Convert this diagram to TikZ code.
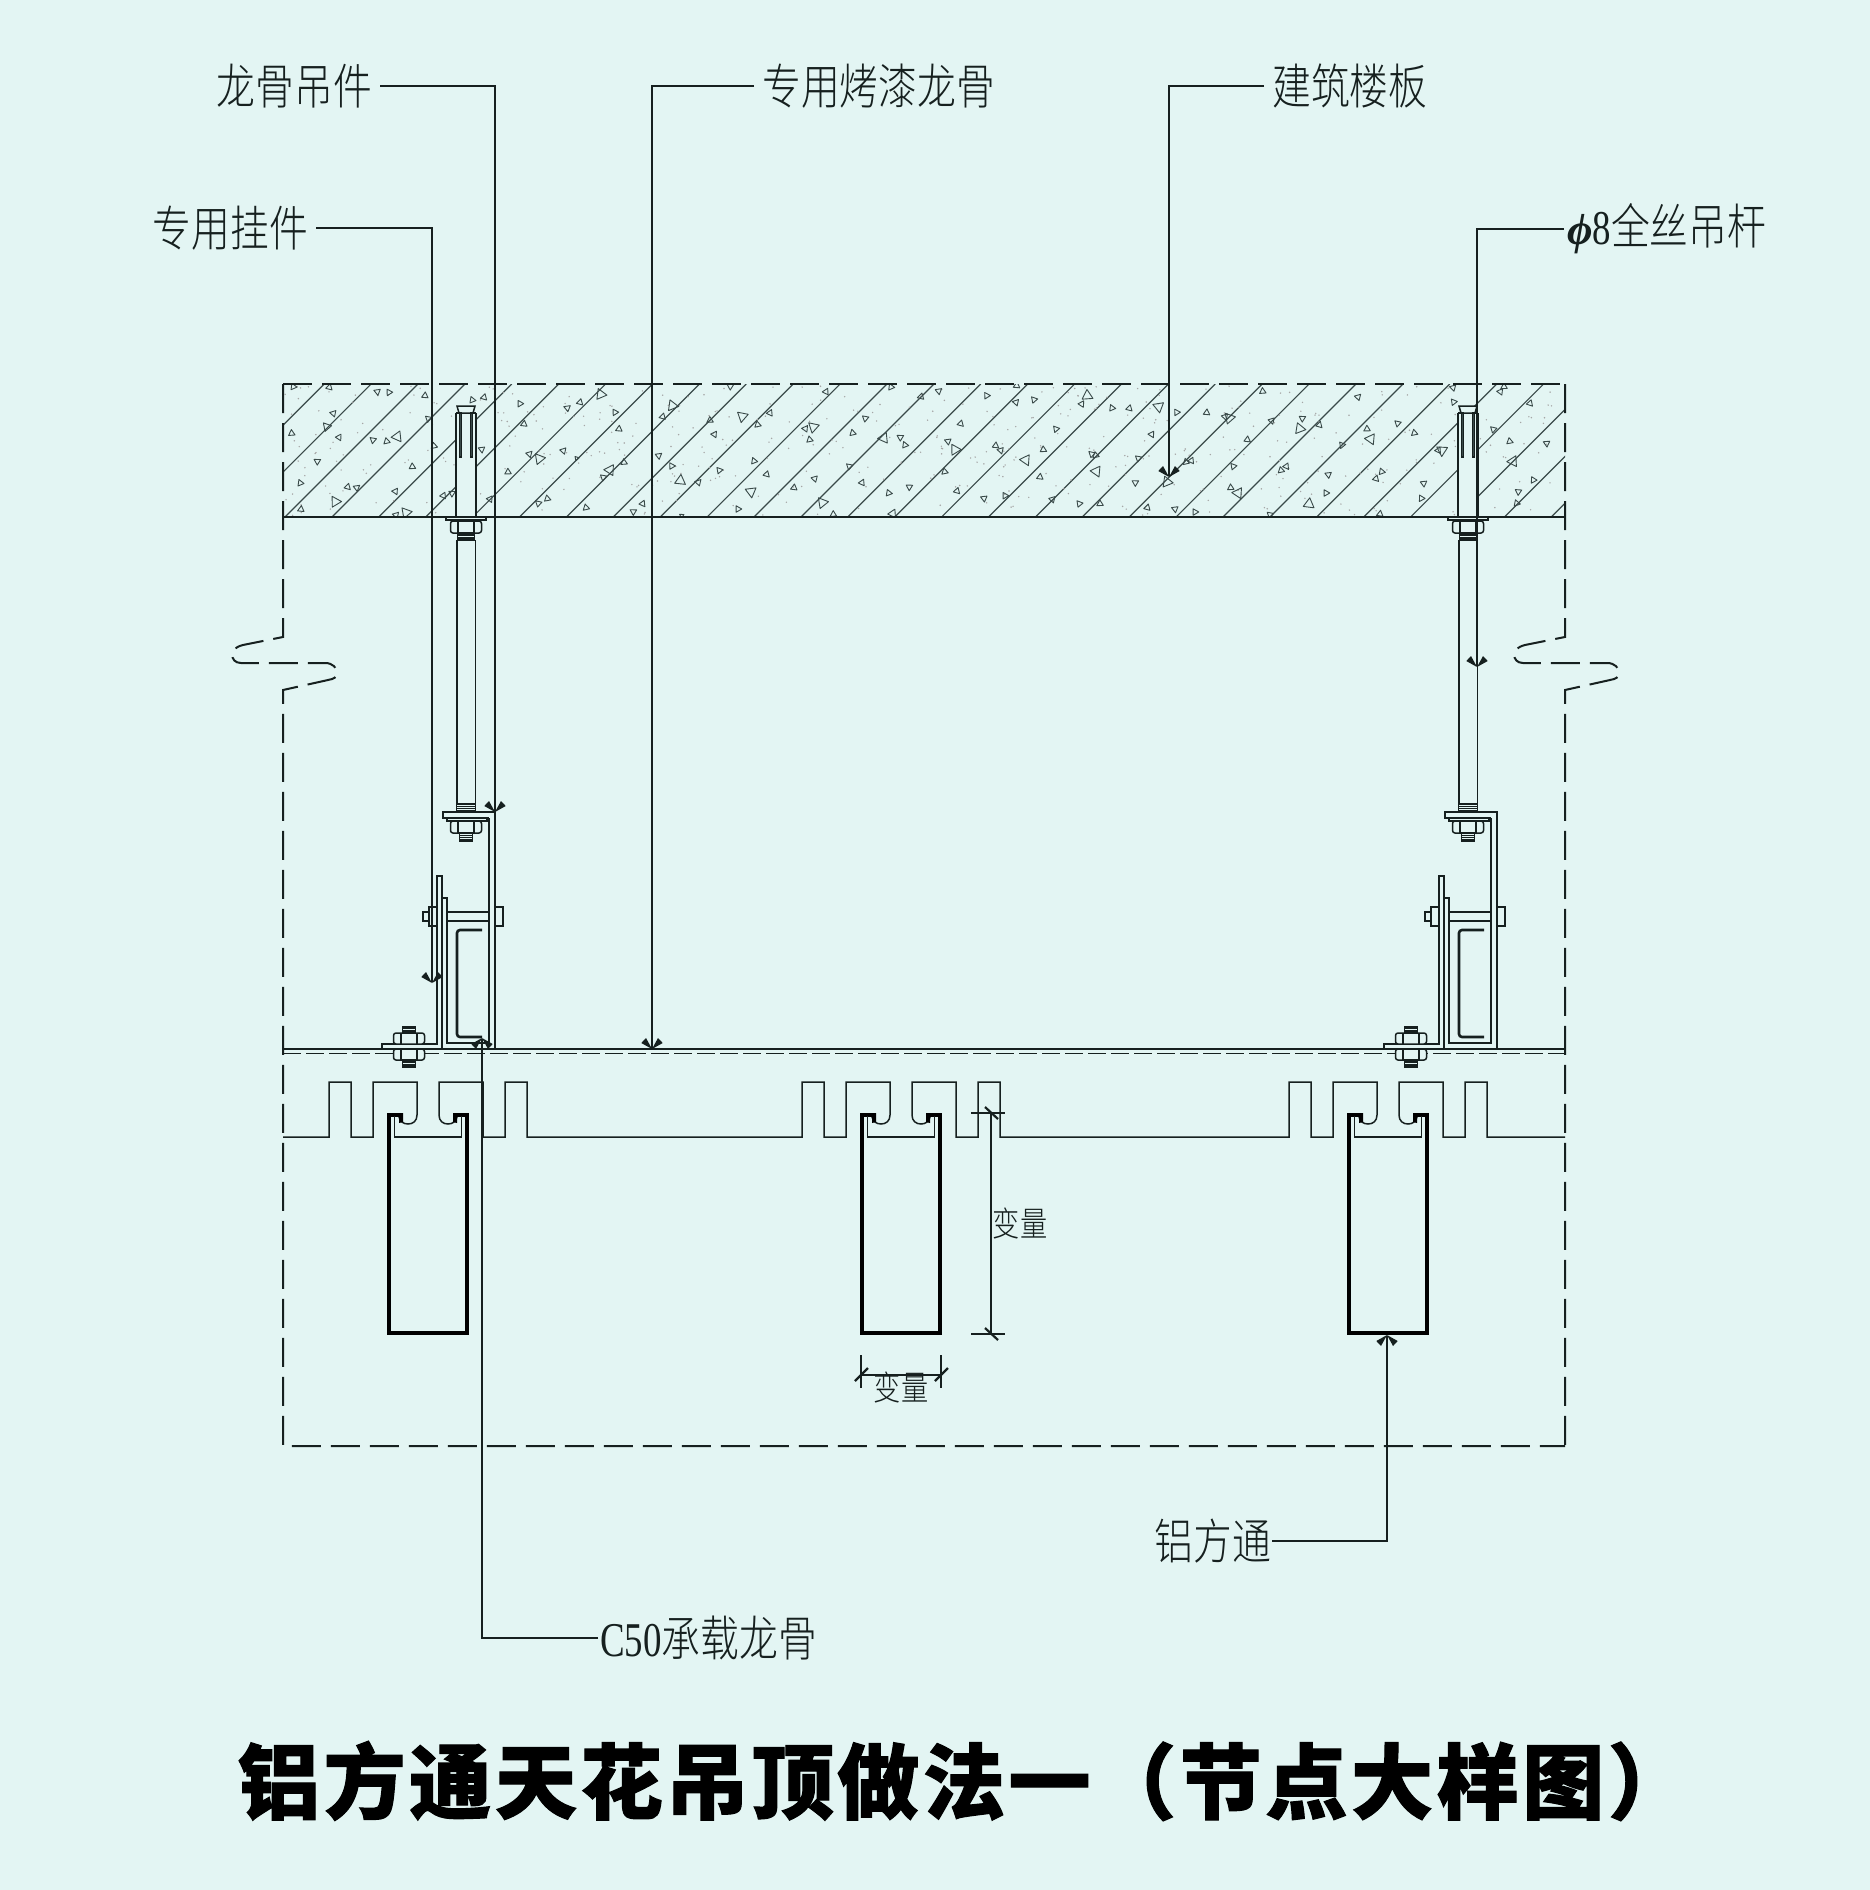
\documentclass[tikz,border=0pt]{standalone}
\usepackage{fontspec}
\usetikzlibrary{arrows.meta}
\newfontfamily\labf[FakeStretch=0.8]{Noto Sans CJK SC Light}
\newfontfamily\latf[FakeStretch=0.76]{Liberation Serif}
\newfontfamily\phif{Liberation Serif Bold Italic}
\newfontfamily\titlef[LetterSpace=4.4,FakeBold=1.3]{Noto Sans CJK SC Black}
\definecolor{bgc}{HTML}{E3F5F3}
\definecolor{ink}{HTML}{16201F}
\definecolor{hatchc}{HTML}{3A4A49}
\pgfdeclarearrow{
  name=Barbs,
  setup code={\pgfarrowssettipend{0pt}\pgfarrowssetlineend{-1pt}\pgfarrowssetvisualbackend{-8pt}\pgfarrowssetbackend{-11pt}},
  drawing code={
    \pgfpathmoveto{\pgfqpoint{0pt}{0pt}}
    \pgfpathlineto{\pgfqpoint{-11pt}{6pt}}
    \pgfpathlineto{\pgfqpoint{-6pt}{10.7pt}}
    \pgfpathclose
    \pgfpathmoveto{\pgfqpoint{0pt}{0pt}}
    \pgfpathlineto{\pgfqpoint{-11pt}{-6pt}}
    \pgfpathlineto{\pgfqpoint{-6pt}{-10.7pt}}
    \pgfpathclose
    \pgfusepathqfill},
}
\tikzset{
  part/.style={draw=ink,line width=1.5pt,line join=miter},
  thinpart/.style={draw=ink,line width=1.3pt},
  border/.style={draw=ink,line width=2pt,dash pattern=on 29pt off 10pt},
  leader/.style={draw=ink,line width=1.5pt,-{Barbs}},
  leaderlabel/.style={inner sep=0pt,inner xsep=8pt,text=ink,font=\labf\fontsize{48.5}{48.5}\selectfont},
  dimlabel/.style={inner sep=0pt,text=ink,font=\labf\fontsize{34}{34}\selectfont},
  tube/.style={draw=black,line width=4pt,line join=miter},
  tri/.style={draw=hatchc,line width=.9pt,line join=round},
}
\newcommand{\tris}[3]{% origin x, origin y, list x/y/size in zoom pixels
  \foreach \px/\py/\ps [count=\ti] in {#3}{
    \pgfmathsetmacro{\tx}{#1+\px/3}
    \pgfmathsetmacro{\ty}{#2+\py/3}
    \pgfmathsetmacro{\ta}{mod(\ti*83,360)}
    \pgfmathsetmacro{\ar}{\ps*1.25}
    \draw[tri,shift={(\tx,\ty)},rotate=\ta] (90:\ar) -- (210:\ar) -- (330:\ar) -- cycle;
  }}
\newcommand{\hexnut}[3]{% cx, ytop, ybottom
  \draw[part,fill=bgc,rounded corners=2.5pt] (#1-15.5,#2) rectangle (#1+15.5,#3);
  \draw[thinpart] (#1-8,#2) -- (#1-8,#3) (#1+8,#2) -- (#1+8,#3);}
\newcommand{\thrd}[4]{% cx, halfwidth, ytop, ybottom
  \draw[part,fill=bgc] (#1-#2,#3) rectangle (#1+#2,#4);
  \draw[thinpart] (#1-#2,#3*.7+#4*.3) -- (#1+#2,#3*.7+#4*.3) (#1-#2,#3*.4+#4*.6) -- (#1+#2,#3*.4+#4*.6) (#1-#2,#3*.15+#4*.85) -- (#1+#2,#3*.15+#4*.85);}
\newcommand{\hangerset}{%
  % expansion anchor
  \fill[bgc] (456,406) rectangle (476,517);
  \draw[part] (457,406) -- (475,406) -- (473,413) -- (459,413) -- cycle;
  \draw[part,line width=2pt] (456,413) -- (456,517) (476,413) -- (476,517) (456,413) -- (459,413) (473,413) -- (476,413);
  \draw[part,line width=1.2pt,fill=hatchc] (459.3,413) rectangle (461.6,457) (470.4,413) rectangle (472.7,457);
  \draw[part,fill=bgc] (446,517) rectangle (486,520);
  \hexnut{466}{521}{533}
  \thrd{466}{8.5}{533}{540}
  % rod
  \draw[part] (457,540) -- (457,804) (475.5,540) -- (475.5,804);
  \thrd{466}{9.5}{804}{812}
  % hanger plate and arm
  \draw[part] (489,818) -- (447,818) -- (443,818) -- (443,812) -- (495,812) -- (495,1049);
  \draw[part] (489,818) -- (489,1043) -- (447,1043) -- (447,898) -- (442,898) -- (442,1049) -- (495,1049);
  \draw[part] (447,818) rectangle (487,821);
  \hexnut{466}{821}{833}
  \thrd{466}{6.5}{833}{841}
  % side angle
  \draw[part] (437,1044) -- (437,876) -- (442,876) -- (442,1049) -- (382,1049) -- (382,1044) -- cycle;
  % cross bolt
  \draw[part] (447,912) rectangle (489,921);
  \draw[part,fill=bgc] (429,907) rectangle (437,926);
  \draw[part,fill=bgc] (423,912) rectangle (429,921);
  \draw[part,fill=bgc] (495,907) rectangle (503,926);
  % C channel
  \draw[draw=ink,line width=2.6pt,rounded corners=3pt] (482,930) -- (457,930) -- (457,1037) -- (482,1037);
  % lower bolt
  \thrd{409}{6.5}{1027}{1033}
  \hexnut{409}{1033}{1044}
  \hexnut{409}{1049}{1060}
  \thrd{409}{6.5}{1060}{1067}
}
\newcommand{\breakline}{%
  (283,637) -- (243,645) .. controls (235,647) and (232,651) .. (232,654) .. controls (232,659) and (235,663) .. (241,663) -- (325,663) .. controls (333,663) and (337,668) .. (337,673) .. controls (337,677) and (334,679) .. (328,680) -- (283,690)}
\newcommand{\tubeunit}[1]{%
  \draw[tube] (#1-29,1115) -- (#1-39,1115) -- (#1-39,1333) -- (#1+39,1333) -- (#1+39,1115) -- (#1+29,1115);
  \fill[black] (#1-29,1113) -- (#1-25,1113) -- (#1-25,1122) -- (#1-29,1123) -- cycle;
  \fill[black] (#1+29,1113) -- (#1+25,1113) -- (#1+25,1122) -- (#1+29,1123) -- cycle;
  \draw[part] (#1-33.3,1116) -- (#1-33.3,1137) -- (#1+33.3,1137) -- (#1+33.3,1116);
}
\newcommand{\slotprofile}[1]{%
  -- (#1-99,1137) -- (#1-99,1082) -- (#1-77,1082) -- (#1-77,1137) -- (#1-55,1137) -- (#1-55,1082) -- (#1-11,1082) -- (#1-11,1115)
  .. controls (#1-11,1121) and (#1-15,1124) .. (#1-20,1124) .. controls (#1-25,1124) and (#1-28,1121) .. (#1-29,1117)
  (#1+29,1117) .. controls (#1+28,1121) and (#1+25,1124) .. (#1+20,1124) .. controls (#1+15,1124) and (#1+11,1121) .. (#1+11,1115)
  -- (#1+11,1082) -- (#1+55,1082) -- (#1+55,1137) -- (#1+77,1137) -- (#1+77,1082) -- (#1+99,1082) -- (#1+99,1137)}
\begin{document}
\begin{tikzpicture}[x=1pt,y=-1pt]
\useasboundingbox[fill=bgc] (0,0) rectangle (1870,1890);
% slab
\begin{scope}
  \clip (283,384) rectangle (1565,517);
  \foreach \k in {-2,...,27}{
    \pgfmathsetmacro{\hx}{285+46.9*\k}
    \draw[draw=hatchc,line width=1.2pt] (\hx,517) -- (\hx+133,384);
  }
  \pgfmathsetseed{11}
  \foreach \i in {1,...,450}{
    \pgfmathsetmacro{\dx}{285+rnd*1278}
    \pgfmathsetmacro{\dy}{386+rnd*130}
    \fill[gray!70] (\dx,\dy) circle (.8);
  }
  \tris{260}{370}{100/50/3,208/52/3,352/65/3,387/67/3,495/77/3,220/130/3,200/170/4,95/190/3,237/202/3,339/210/3,380/214/3,412/200/5,172/274/3,121/339/3,263/351/3,290/353/3,226/395/5,123/418/3,408/435/3,438/428/5,457/290/3,406/364/3,505/146/3,522/228/3,550/377/3,576/370/3,637/90/3,672/82/3,665/238/3,780/101/3,792/162/3,808/252/3,838/266/5,744/306/3,690/387/3,835/400/3,862/386/3}
  \tris{550}{375}{152/58/5,90/82/3,52/99/3,195/112/3,207/162/3,40/227/3,80/250/2,222/262/3,180/285/5,160/307/3,108/398/3,278/386/3,250/410/3,367/92/5,338/125/3,326/242/3,365/273/3,391/317/5,445/322/3,508/286/3,480/136/3,493/178/3,577/124/5,623/149/3,660/114/3,541/34/3,612/258/3,650/298/3,603/350/5,564/402/3,732/338/3,794/311/3,817/383/5,850/418/3,766/161/3,790/156/5,779/194/3,828/50/3,395/422/2}
  \tris{840}{375}{153/36/3,243/65/3,296/48/3,440/62/3,530/32/3,528/82/3,582/74/3,742/62/5,725/87/3,76/130/3,38/174/3,131/189/5,181/187/3,195/210/3,362/146/3,324/199/3,345/224/5,467/212/3,482/226/3,648/162/3,610/224/3,557/255/5,28/274/3,314/290/3,66/323/3,208/336/3,146/354/3,351/348/3,432/370/3,495/362/3,600/306/3,637/373/3,718/386/3,780/386/3,769/289/5,755/237/3,767/241/3,158/416/4}
  \tris{1100}{370}{36/114/3,88/115/3,176/110/5,230/127/3,320/128/3,375/140/3,388/144/5,488/64/3,155/193/3,115/265/3,258/276/3,274/272/3,106/338/3,201/336/5,142/413/3,225/417/3,285/426/3,442/209/3,515/152/3,400/289/3,392/353/3,414/369/5,510/434/3,543/301/3,559/289/3,607/145/3,599/176/5,658/165/3,685/314/3,678/369/3,627/402/5,774/81/3,726/225/3,801/177/3,812/207/5,893/160/3,943/189/3,1015/241/3,1026/241/5,845/305/3,828/326/3,971/340/3,964/385/3,840/432/3,1059/53/3,1061/96/3,1212/50/3,1201/65/3,1180/178/3,1229/214/3,1239/274/5,1255/365/3,1250/400/3,1290/100/3,1340/220/3,1300/330/3}
\end{scope}
% outline
\draw[border] (283,384) -- (1565,384);
\draw[border] (283,384) -- \breakline -- (283,1446) -- (1565,1446);
\begin{scope}[shift={(1282,0)}]
  \draw[border] (283,384) -- \breakline -- (283,1446);
\end{scope}
\draw[draw=ink,line width=2.4pt] (283,517) -- (1565,517);
\draw[draw=ink,line width=1.3pt] (283,1049) -- (1565,1049);
\draw[draw=ink,line width=1.1pt,dash pattern=on 18pt off 5pt] (283,1053.5) -- (1565,1053.5);
% hangers
\hangerset
\begin{scope}[shift={(1002,0)}]
  \hangerset
\end{scope}
% ceiling profile
\draw[part] (283,1137) \slotprofile{428} \slotprofile{901} \slotprofile{1388} -- (1565,1137);
\tubeunit{428}
\tubeunit{901}
\tubeunit{1388}
% dimensions
\draw[thinpart] (991,1113) -- (991,1334) (971,1113) -- (1005,1113) (971,1334) -- (1005,1334);
\draw[draw=ink,line width=2.2pt] (985,1107) -- (998,1119) (985,1328) -- (998,1340);
\draw[thinpart] (861,1375) -- (941,1375) (861,1355) -- (861,1388) (941,1355) -- (941,1388);
\draw[draw=ink,line width=2.2pt] (855,1381) -- (868,1368) (935,1381) -- (948,1368);
\node[dimlabel] (dimv) at (1020,1223) {变量};
\node[dimlabel] (dimh) at (901,1387) {变量};
% labels
\node[leaderlabel,anchor=east] (lbA) at (380,86) {龙骨吊件};
\node[leaderlabel,anchor=east] (lbB) at (316,228) {专用挂件};
\node[leaderlabel,anchor=west] (lbC) at (754,86) {专用烤漆龙骨};
\node[leaderlabel,anchor=west] (lbD) at (1264,86) {建筑楼板};
\node[leaderlabel,anchor=west,inner xsep=3pt] (lbE) at (1564,229) {{\phif\fontsize{44}{44}\selectfont ϕ}{\latf 8}全丝吊杆};
\node[leaderlabel,anchor=east,inner xsep=1pt] (lbF) at (1272,1541) {铝方通};
\node[leaderlabel,anchor=west,inner xsep=2pt] (lbG) at (598,1638) {{\latf C50}承载龙骨};
\coordinate (tA) at (495,812);
\coordinate (tB) at (432,983);
\coordinate (tC) at (652,1049);
\coordinate (tD) at (1169,477);
\coordinate (tE) at (1477,667);
\coordinate (tF) at (1387,1335);
\coordinate (tG) at (482,1038);
\draw[leader] (lbA.east) -| (tA);
\draw[leader] (lbB.east) -| (tB);
\draw[leader] (lbC.west) -| (tC);
\draw[leader] (lbD.west) -| (tD);
\draw[leader] (lbE.west) -| (tE);
\draw[leader] (lbF.east) -| (tF);
\draw[leader] (lbG.west) -| (tG);
% title
\node[anchor=west,inner sep=0pt,text=black,font=\titlef\fontsize{82}{82}\selectfont] (title) at (238,1781) {铝方通天花吊顶做法一（节点大样图）};
\end{tikzpicture}
\end{document}
